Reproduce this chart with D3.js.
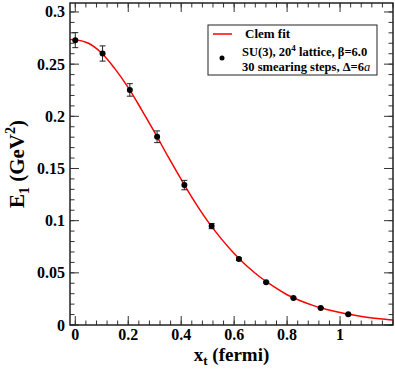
<!DOCTYPE html>
<html>
<head>
<meta charset="utf-8">
<script src="https://cdn.jsdelivr.net/npm/d3@7"></script>
<style>
  body { margin: 0; background: #fff; }
  svg { display: block; font-family: 'Liberation Serif', 'DejaVu Serif', serif; font-weight: bold; }
</style>
</head>
<body>
<div id="chart"></div>
<script>
// lattice points (fermi) and measured E1 (GeV^2)
const xt = [0, 0.103, 0.206, 0.309, 0.412, 0.515, 0.618, 0.721, 0.824, 0.927, 1.031];
const e1 = [0.273, 0.2602, 0.2253, 0.1804, 0.1341, 0.0948, 0.0632, 0.0409, 0.0259, 0.0163, 0.0102];
const e1Err = [0.0072, 0.0073, 0.006, 0.0056, 0.0045, 0.0025, 0.0012, 0.0008, 0.0006, 0.0005, 0.0004];

// Clem fit curve
const fitX = [-0.02, 0, 0.05, 0.1, 0.15, 0.2, 0.25, 0.3, 0.35, 0.4, 0.45, 0.5, 0.55, 0.6,
  0.65, 0.7, 0.75, 0.8, 0.85, 0.9, 0.95, 1.0, 1.05, 1.1, 1.15, 1.2];
const fitY = [0.2735, 0.2735, 0.270, 0.2605, 0.2455, 0.2275, 0.2065, 0.1845, 0.1615, 0.1395,
  0.1185, 0.0995, 0.083, 0.0685, 0.056, 0.0455, 0.0367, 0.029, 0.0232, 0.0186, 0.0149, 0.0119,
  0.0095, 0.0075, 0.006, 0.0048];

const xTicks = [0, 0.2, 0.4, 0.6, 0.8, 1];
const xMinor = d3.range(-0.0, 1.2001, 0.04);
const yTicks = [0, 0.05, 0.1, 0.15, 0.2, 0.25, 0.3];
const yMinor = d3.range(0, 0.3001, 0.01);

const W = 395, H = 370;
const margin = { top: 3, right: 2, bottom: 45, left: 70 };
const width = W - margin.left - margin.right;
const height = H - margin.top - margin.bottom;

const svg = d3.select('#chart').append('svg').attr('width', W).attr('height', H);
const g = svg.append('g').attr('transform', `translate(${margin.left},${margin.top})`);

const x = d3.scaleLinear().domain([-0.02, 1.2]).range([0, width]);
const y = d3.scaleLinear().domain([0, 0.3086]).range([height, 0]);

const tickCol = '#333';

// ticks on all four sides, pointing inward
function ticks(vals, len, isX) {
  vals.forEach(v => {
    if (isX) {
      const px = x(v);
      g.append('line').attr('x1', px).attr('x2', px).attr('y1', height).attr('y2', height - len)
        .attr('stroke', tickCol).attr('stroke-width', 1);
      g.append('line').attr('x1', px).attr('x2', px).attr('y1', 0).attr('y2', len)
        .attr('stroke', tickCol).attr('stroke-width', 1);
    } else {
      const py = y(v);
      g.append('line').attr('x1', 0).attr('x2', len).attr('y1', py).attr('y2', py)
        .attr('stroke', tickCol).attr('stroke-width', 1);
      g.append('line').attr('x1', width).attr('x2', width - len).attr('y1', py).attr('y2', py)
        .attr('stroke', tickCol).attr('stroke-width', 1);
    }
  });
}
ticks(xMinor, 4.5, true);
ticks(xTicks, 9, true);
ticks(yMinor, 4.5, false);
ticks(yTicks, 9, false);

g.selectAll('.xl').data(xTicks).enter().append('text')
  .attr('x', d => x(d)).attr('y', height + 15)
  .attr('text-anchor', 'middle').attr('font-size', 16)
  .text(d => d3.format('')(d));

g.selectAll('.yl').data(yTicks).enter().append('text')
  .attr('x', -5).attr('y', d => y(d) + 5.5)
  .attr('text-anchor', 'end').attr('font-size', 16)
  .text(d => d3.format('')(d));

// fit curve
const line = d3.line().x((d, i) => x(fitX[i])).y(d => y(d)).curve(d3.curveCatmullRom);
g.append('path').datum(fitY).attr('d', line)
  .attr('fill', 'none').attr('stroke', '#ff0000').attr('stroke-width', 1.5);

// error bars
const pts = xt.map((v, i) => ({ x: v, y: e1[i], e: e1Err[i] }));
const eb = g.selectAll('.eb').data(pts).enter().append('g')
  .attr('stroke', '#222').attr('stroke-width', 1);
eb.append('line').attr('x1', d => x(d.x)).attr('x2', d => x(d.x))
  .attr('y1', d => y(d.y - d.e)).attr('y2', d => y(d.y + d.e));
eb.append('line').attr('x1', d => x(d.x) - 3).attr('x2', d => x(d.x) + 3)
  .attr('y1', d => y(d.y - d.e)).attr('y2', d => y(d.y - d.e));
eb.append('line').attr('x1', d => x(d.x) - 3).attr('x2', d => x(d.x) + 3)
  .attr('y1', d => y(d.y + d.e)).attr('y2', d => y(d.y + d.e));

g.selectAll('.pt').data(pts).enter().append('circle')
  .attr('cx', d => x(d.x)).attr('cy', d => y(d.y)).attr('r', 3)
  .attr('fill', '#000');

// frame
g.append('rect').attr('width', width).attr('height', height)
  .attr('fill', 'none').attr('stroke', '#222').attr('stroke-width', 1.5);

// axis titles
const xt_ = svg.append('text').attr('x', margin.left + width / 2).attr('y', 361)
  .attr('text-anchor', 'middle').attr('font-size', 19);
xt_.append('tspan').text('x');
xt_.append('tspan').attr('font-size', 13).attr('dy', 4).text('t');
xt_.append('tspan').attr('dy', -4).text(' (fermi)');

const yt = svg.append('text').attr('transform', `translate(24,${margin.top + height / 2}) rotate(-90)`)
  .attr('text-anchor', 'middle').attr('font-size', 21);
yt.append('tspan').text('E');
yt.append('tspan').attr('font-size', 14).attr('dy', 5).text('1');
yt.append('tspan').attr('dy', -5).text(' (GeV');
yt.append('tspan').attr('font-size', 14).attr('dy', -9).text('2');
yt.append('tspan').attr('dy', 9).text(')');

// legend
const lg = svg.append('g').attr('transform', 'translate(208,25)');
lg.append('rect').attr('width', 169).attr('height', 50)
  .attr('fill', '#fff').attr('stroke', '#222').attr('stroke-width', 1);
lg.append('line').attr('x1', 5).attr('x2', 24).attr('y1', 9).attr('y2', 9)
  .attr('stroke', '#ff0000').attr('stroke-width', 1.5);
lg.append('text').attr('x', 37).attr('y', 13).attr('font-size', 13).text('Clem fit');
lg.append('circle').attr('cx', 14).attr('cy', 33).attr('r', 2.5).attr('fill', '#000');
const l2 = lg.append('text').attr('x', 34).attr('y', 31).attr('font-size', 12.5);
l2.append('tspan').text('SU(3), 20');
l2.append('tspan').attr('font-size', 9).attr('dy', -5).text('4');
l2.append('tspan').attr('dy', 5).text(' lattice, \u03B2=6.0');
const l3 = lg.append('text').attr('x', 34).attr('y', 45.5).attr('font-size', 12.5);
l3.append('tspan').text('30 smearing steps, \u0394=6');
l3.append('tspan').attr('font-style', 'italic').attr('font-weight', 'normal').text('a');
</script>
</body>
</html>
